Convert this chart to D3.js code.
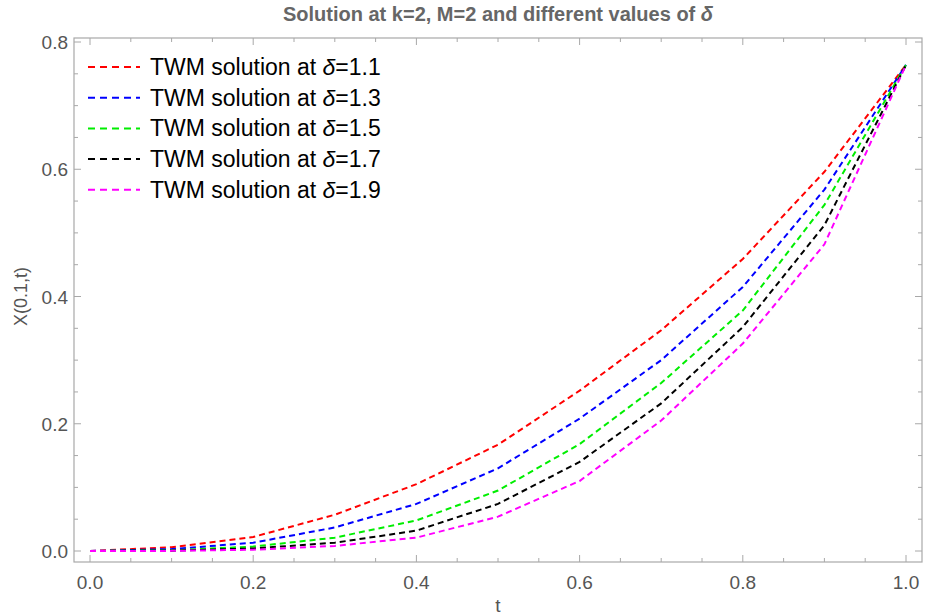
<!DOCTYPE html>
<html>

<head>
    <script src="https://d3js.org/d3.v7.min.js"></script>
    <style>
        body { margin: 0; background: #fff; }
        text { font-family: "Liberation Sans", Arial, sans-serif; }
    </style>
</head>

<body>
    <svg id="chart" width="930" height="616"></svg>

    <script>
        // t values and solution values
        const tValues = [0.0, 0.1, 0.2, 0.3, 0.4, 0.5, 0.6, 0.7, 0.8, 0.9, 1.0];
        const delta11 = [0, 0.006, 0.022, 0.057, 0.105, 0.167, 0.252, 0.347, 0.459, 0.596, 0.764];
        const delta13 = [0, 0.003, 0.013, 0.037, 0.074, 0.130, 0.208, 0.300, 0.415, 0.568, 0.764];
        const delta15 = [0, 0.001, 0.007, 0.021, 0.048, 0.095, 0.168, 0.264, 0.378, 0.544, 0.764];
        const delta17 = [0, 0.0005, 0.004, 0.013, 0.032, 0.074, 0.140, 0.232, 0.352, 0.512, 0.764];
        const delta19 = [0, 0.0002, 0.002, 0.008, 0.021, 0.054, 0.110, 0.205, 0.326, 0.482, 0.764];

        const seriesNames = ["1.1", "1.3", "1.5", "1.7", "1.9"];
        const seriesColors = ["#ff0000", "#0000ff", "#00ee00", "#000000", "#ff00ff"];
        const allSeries = [delta11, delta13, delta15, delta17, delta19];

        const xTicks = [0.0, 0.2, 0.4, 0.6, 0.8, 1.0];
        const yTicks = [0.0, 0.2, 0.4, 0.6, 0.8];

        const svg = d3.select("#chart");
        const frame = { left: 74, right: 922, top: 38, bottom: 562 };

        const x = d3.scaleLinear().domain([0, 1]).range([90, 906]);
        const y = d3.scaleLinear().domain([0, 0.8]).range([551, 42]);

        // frame
        svg.append("rect")
            .attr("x", frame.left)
            .attr("y", frame.top)
            .attr("width", frame.right - frame.left)
            .attr("height", frame.bottom - frame.top)
            .attr("fill", "none")
            .attr("stroke", "#a8a8a8")
            .attr("stroke-width", 1.2);

        // ticks on all four sides (major + minor)
        const minorX = d3.range(0, 1.0001, 0.05);
        const minorY = d3.range(0, 0.8001, 0.05);
        const tickColor = "#a8a8a8";

        const ticks = svg.append("g").attr("stroke", tickColor).attr("stroke-width", 1);
        minorX.forEach(v => {
            const major = xTicks.some(t => Math.abs(t - v) < 1e-6);
            const len = major ? 7 : 4;
            ticks.append("line").attr("x1", x(v)).attr("x2", x(v))
                .attr("y1", frame.bottom).attr("y2", frame.bottom - len);
            ticks.append("line").attr("x1", x(v)).attr("x2", x(v))
                .attr("y1", frame.top).attr("y2", frame.top + len);
        });
        minorY.forEach(v => {
            const major = yTicks.some(t => Math.abs(t - v) < 1e-6);
            const len = major ? 7 : 4;
            ticks.append("line").attr("y1", y(v)).attr("y2", y(v))
                .attr("x1", frame.left).attr("x2", frame.left + len);
            ticks.append("line").attr("y1", y(v)).attr("y2", y(v))
                .attr("x1", frame.right).attr("x2", frame.right - len);
        });

        // tick labels
        svg.append("g").selectAll("text").data(xTicks)
            .join("text")
            .attr("x", d => x(d))
            .attr("y", 589)
            .attr("text-anchor", "middle")
            .attr("font-size", 19)
            .attr("fill", "#555")
            .text(d => d.toFixed(1));

        svg.append("g").selectAll("text").data(yTicks)
            .join("text")
            .attr("x", 68)
            .attr("y", d => y(d) + 7)
            .attr("text-anchor", "end")
            .attr("font-size", 19)
            .attr("fill", "#555")
            .text(d => d.toFixed(1));

        // axis labels
        svg.append("text")
            .attr("x", x(0.5))
            .attr("y", 612)
            .attr("text-anchor", "middle")
            .attr("font-size", 19)
            .attr("fill", "#555")
            .text("t");

        svg.append("text")
            .attr("transform", "translate(27," + y(0.4) + ") rotate(-90)")
            .attr("text-anchor", "middle")
            .attr("font-size", 18)
            .attr("fill", "#555")
            .text("X(0.1,t)");

        // title
        const title = svg.append("text")
            .attr("x", (frame.left + frame.right) / 2)
            .attr("y", 21)
            .attr("text-anchor", "middle")
            .attr("font-size", 20)
            .attr("font-weight", "bold")
            .attr("fill", "#666");
        title.append("tspan").text("Solution at k=2, M=2 and different values of ");
        title.append("tspan").attr("font-style", "italic").text("δ");

        // curves
        const lineGen = d3.line()
            .x((d, i) => x(tValues[i]))
            .y(d => y(d));

        svg.append("g").selectAll("path").data(allSeries)
            .join("path")
            .attr("d", d => lineGen(d))
            .attr("fill", "none")
            .attr("stroke", (d, i) => seriesColors[i])
            .attr("stroke-width", 2)
            .attr("stroke-dasharray", "6,4");

        // legend
        const legend = svg.append("g");
        seriesNames.forEach((name, i) => {
            const ly = 67 + i * 30.7;
            legend.append("line")
                .attr("x1", 88).attr("x2", 140)
                .attr("y1", ly).attr("y2", ly)
                .attr("stroke", seriesColors[i])
                .attr("stroke-width", 2)
                .attr("stroke-dasharray", "7,5");
            const t = legend.append("text")
                .attr("x", 150)
                .attr("y", ly + 8)
                .attr("font-size", 23)
                .attr("fill", "#000");
            t.append("tspan").text("TWM solution at ");
            t.append("tspan").attr("font-style", "italic").text("δ");
            t.append("tspan").text("=" + name);
        });
    </script>

</body>

</html>
